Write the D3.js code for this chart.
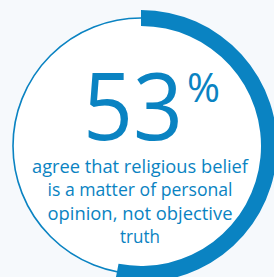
<!DOCTYPE html>
<html>
<head>
<meta charset="utf-8">
<script src="https://cdn.jsdelivr.net/npm/d3@7"></script>
<style>
  html, body { margin: 0; padding: 0; background: #f6f9fc; }
  svg { display: block; }
</style>
</head>
<body>
<svg id="chart" width="274" height="277"></svg>
<script>
const value = [53];
const valueLabel = ["53"];
const unitLabel = ["%"];
const captionLines = [
  "agree that religious belief",
  "is a matter of personal",
  "opinion, not objective",
  "truth"
];

const W = 274, H = 277;
const cx = 141, cy = 146, r = 128, band = 16;
const blue = "#0a83c2";
const font = "'Open Sans', 'Noto Sans', sans-serif";

const svg = d3.select("#chart");
svg.append("rect").attr("width", W).attr("height", H).attr("fill", "#f6f9fc");

const g = svg.append("g").attr("transform", `translate(${cx},${cy})`);

const angle = d3.scaleLinear().domain([0, 100]).range([0, 2 * Math.PI]);

g.append("circle").attr("r", r).attr("fill", "#ffffff")
  .attr("stroke", blue).attr("stroke-width", 1.6);

const arc = d3.arc().innerRadius(r - band / 2).outerRadius(r + band / 2);
g.selectAll("path.val").data(value).join("path")
  .attr("class", "val")
  .attr("d", d => arc({ startAngle: angle(0), endAngle: angle(d) }))
  .attr("fill", blue);

// big number
g.append("text")
  .text(valueLabel[0])
  .attr("x", -8).attr("y", -6)
  .attr("text-anchor", "middle")
  .attr("font-family", font)
  .attr("font-size", 94)
  .attr("textLength", 100)
  .attr("lengthAdjust", "spacingAndGlyphs")
  .attr("fill", blue);

g.append("text")
  .text(unitLabel[0])
  .attr("x", 46).attr("y", -44)
  .attr("font-family", font)
  .attr("font-size", 40)
  .attr("textLength", 33)
  .attr("lengthAdjust", "spacingAndGlyphs")
  .attr("fill", blue);

const widths = [216, 185, 185, 40];
g.selectAll("text.cap").data(captionLines).join("text")
  .attr("class", "cap")
  .text(d => d)
  .attr("x", -1)
  .attr("y", (d, i) => 27 + i * 23.3)
  .attr("text-anchor", "middle")
  .attr("font-family", font)
  .attr("font-size", 19)
  .attr("textLength", (d, i) => widths[i])
  .attr("lengthAdjust", "spacingAndGlyphs")
  .attr("fill", blue);
</script>
</body>
</html>
